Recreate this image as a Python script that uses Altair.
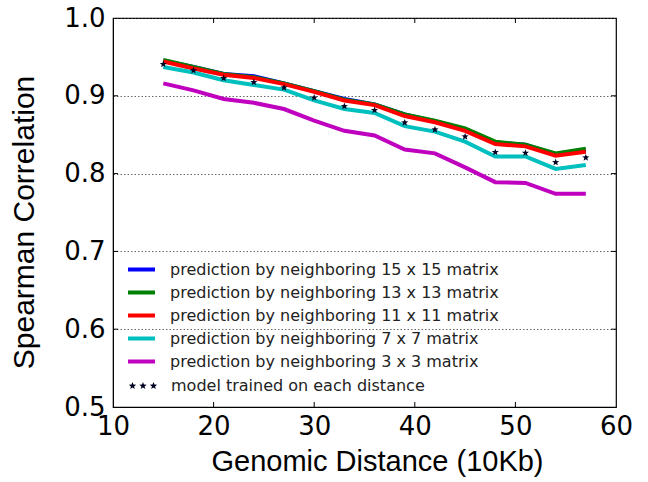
import math
import altair as alt
import pandas as pd

distance = [15, 18, 21, 24, 27, 30, 33, 36, 39, 42, 45, 48, 51, 54, 57]
series_names = [
    "prediction by neighboring 15 x 15 matrix",
    "prediction by neighboring 13 x 13 matrix",
    "prediction by neighboring 11 x 11 matrix",
    "prediction by neighboring 7 x 7 matrix",
    "prediction by neighboring 3 x 3 matrix",
]
series_colors = ["#0000ff", "#008000", "#ff0000", "#00bfbf", "#bf00bf"]
m15 = [0.945, 0.937, 0.928, 0.925, 0.916, 0.906, 0.896, 0.889, 0.876, 0.867, 0.857, 0.840, 0.837, 0.825, 0.830]
m13 = [0.946, 0.937, 0.928, 0.924, 0.916, 0.906, 0.895, 0.889, 0.876, 0.868, 0.858, 0.841, 0.837, 0.826, 0.832]
m11 = [0.944, 0.935, 0.927, 0.923, 0.915, 0.905, 0.894, 0.888, 0.874, 0.866, 0.855, 0.838, 0.835, 0.823, 0.828]
m7 = [0.937, 0.930, 0.920, 0.914, 0.908, 0.894, 0.883, 0.878, 0.861, 0.854, 0.841, 0.822, 0.822, 0.806, 0.811]
m3 = [0.916, 0.907, 0.896, 0.891, 0.883, 0.868, 0.855, 0.849, 0.831, 0.826, 0.808, 0.789, 0.788, 0.774, 0.774]
star_label = "model trained on each distance"
star_values = [0.941, 0.933, 0.923, 0.918, 0.911, 0.898, 0.887, 0.882, 0.866, 0.857, 0.848, 0.828, 0.827, 0.815, 0.821]
x_ticks = [10, 20, 30, 40, 50, 60]
y_ticks = [0.5, 0.6, 0.7, 0.8, 0.9, 1.0]
inner_x_ticks = [20, 30, 40, 50]
inner_y_ticks = [0.6, 0.7, 0.8, 0.9]

W, H = 503, 389

rows = []
for k, (name, vals) in enumerate(zip(series_names, [m15, m13, m11, m7, m3])):
    for d, v in zip(distance, vals):
        rows.append({"distance": d, "corr": v, "series": name, "k": k})
lines_df = pd.DataFrame(rows)
stars_df = pd.DataFrame({"distance": distance, "corr": star_values, "label": star_label})
xt_df = pd.DataFrame({"t": inner_x_ticks})
yt_df = pd.DataFrame({"t": inner_y_ticks})


# 5-point star outline (custom SVG symbol in Vega's [-1, 1] unit box)
def star_path(dx=0.0, s=1.0):
    pts = []
    for i in range(10):
        r = 1.0 if i % 2 == 0 else 0.42
        a = -math.pi / 2 + i * math.pi / 5
        pts.append((dx + s * r * math.cos(a), s * (r * math.sin(a) + 0.1)))
    return "M" + "L".join(f"{px:.3f},{py:.3f}" for px, py in pts) + "Z"


one_star = star_path()
three_stars = " ".join(star_path(dx, 0.26) for dx in (-0.7, 0.0, 0.7))

xscale = alt.Scale(domain=[10, 60], nice=False, zero=False)
yscale = alt.Scale(domain=[0.5, 1.0], nice=False, zero=False)

xaxis = alt.Axis(values=x_ticks, format="d", ticks=False, grid=False, labelFlush=False,
                 labelFont="DejaVu Sans", labelFontSize=26, labelColor="black",
                 labelPadding=6, title="Genomic Distance (10Kb)", titleFont="Liberation Sans",
                 titleFontSize=29, titleFontWeight="normal", titleColor="black",
                 titlePadding=8, titleX=264, domainColor="black")
yaxis = alt.Axis(values=y_ticks, format=".1f", ticks=False, grid=True, gridDash=[1.5, 2],
                 gridColor="#444444", gridWidth=0.8, labelFlush=False,
                 labelFont="DejaVu Sans", labelFontSize=26, labelColor="black",
                 labelPadding=8, title="Spearman Correlation", titleFont="Liberation Sans",
                 titleFontSize=30, titleFontWeight="normal", titleColor="black",
                 titlePadding=24, titleY=204, domainColor="black")

color_scale = alt.Scale(domain=series_names, range=series_colors)
line_legend = alt.Legend(title=None, orient="none", legendX=13, legendY=240,
                         symbolType="stroke", symbolStrokeWidth=4, symbolSize=729,
                         labelFont="DejaVu Sans", labelFontSize=16, labelColor="#222222",
                         labelOffset=13, clipHeight=23, rowPadding=0, padding=0,
                         labelLimit=500)

lines = alt.Chart(lines_df).mark_line(strokeWidth=4).encode(
    x=alt.X("distance:Q", scale=xscale, axis=xaxis),
    y=alt.Y("corr:Q", scale=yscale, axis=yaxis),
    color=alt.Color("series:N", scale=color_scale, legend=line_legend),
    detail="k:O",
)

stars = alt.Chart(stars_df).mark_point(shape=one_star, filled=True, size=56, opacity=1).encode(
    x=alt.X("distance:Q", scale=xscale),
    y=alt.Y("corr:Q", scale=yscale),
    fill=alt.Fill("label:N", scale=alt.Scale(domain=[star_label], range=["#000022"]),
                  legend=alt.Legend(title=None, orient="none", legendX=14, legendY=356,
                                    symbolType=three_stars, symbolSize=900,
                                    labelFont="DejaVu Sans", labelFontSize=16,
                                    labelColor="#222222", labelOffset=12, clipHeight=23,
                                    padding=0, labelLimit=500)),
)

bottom_ticks = alt.Chart(xt_df).mark_rule(color="black").encode(
    x=alt.X("t:Q", scale=xscale), y=alt.value(H), y2=alt.value(H - 5))
top_ticks = alt.Chart(xt_df).mark_rule(color="black").encode(
    x=alt.X("t:Q", scale=xscale), y=alt.value(0), y2=alt.value(5))
left_ticks = alt.Chart(yt_df).mark_rule(color="black").encode(
    y=alt.Y("t:Q", scale=yscale), x=alt.value(0), x2=alt.value(5))
right_ticks = alt.Chart(yt_df).mark_rule(color="black").encode(
    y=alt.Y("t:Q", scale=yscale), x=alt.value(W), x2=alt.value(W - 5))

chart = alt.layer(lines, stars, bottom_ticks, top_ticks, left_ticks, right_ticks).properties(
    width=W, height=H,
    autosize=alt.AutoSizeParams(type="none"),
    padding={"left": 113, "top": 18, "right": 32, "bottom": 75},
    background="white",
).configure_view(stroke="black", strokeWidth=1.2)

chart.save("out.html", embed_options={"renderer": "svg", "actions": False})
